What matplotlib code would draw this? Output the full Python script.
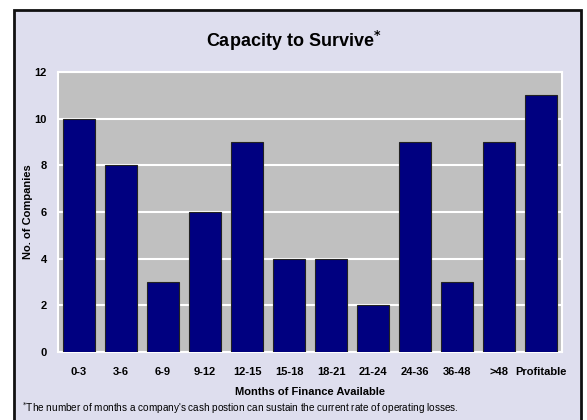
import matplotlib.pyplot as plt
from matplotlib.patches import Rectangle
from matplotlib import font_manager

# data
months = ["0-3", "3-6", "6-9", "9-12", "12-15", "15-18", "18-21",
          "21-24", "24-36", "36-48", ">48", "Profitable"]
companies = [10, 8, 3, 6, 9, 4, 4, 2, 9, 3, 9, 11]
yticks = [0, 2, 4, 6, 8, 10, 12]

names = {f.name for f in font_manager.fontManager.ttflist}
fam = "Liberation Sans Narrow" if "Liberation Sans Narrow" in names else "Liberation Sans"
plt.rcParams["font.family"] = [fam, "DejaVu Sans"]

W, H = 587, 420
fig = plt.figure(figsize=(W / 100, H / 100), dpi=100)
fig.patch.set_facecolor("white")

# outer frame
frame = Rectangle((14 / W, -0.05), (581 - 14) / W, 1.05 - 10 / H,
                  transform=fig.transFigure, facecolor="#DEDEEE",
                  edgecolor="#111111", linewidth=2, zorder=-10)
fig.patches.append(frame)

ax = fig.add_axes([58 / W, 1 - 352 / H, (562 - 58) / W, (352 - 72) / H])
ax.set_facecolor("#C0C0C0")
ax.bar(range(len(months)), companies, width=0.78, color="#000080",
       edgecolor="#222222", linewidth=0.8, zorder=3)

ax.set_ylim(0, 12)
ax.set_xlim(-0.5, len(months) - 0.5)
ax.set_yticks(yticks)
ax.set_xticks(range(len(months)))
ax.set_xticklabels(months)
ax.grid(axis="y", color="white", linewidth=1.5, zorder=1)
for s in ax.spines.values():
    s.set_color("white")
    s.set_linewidth(1.5)
ax.tick_params(length=0, labelsize=8)
ax.tick_params(axis="x", pad=11)
ax.tick_params(axis="y", pad=8)
for lab in ax.get_xticklabels() + ax.get_yticklabels():
    lab.set_fontweight("bold")

ax.set_xlabel("Months of Finance Available", fontsize=8, fontweight="bold",
              va="center")
ax.xaxis.set_label_coords(0.5, -(392 - 352) / (352 - 72))
ax.set_ylabel("No. of Companies", fontsize=8, fontweight="bold",
              va="center", ha="center")
ax.yaxis.set_label_coords(-(58 - 28) / (562 - 58), 0.5)

fig.text(0.5, 1 - 41 / H, r"Capacity to Survive$^{\mathbf{*}}$", ha="center",
         va="center", fontsize=13, fontweight="bold")
fig.text(22 / W, 1 - 408 / H,
         r"$^{*}$The number of months a company's cash postion can sustain "
         "the current rate of operating losses.",
         ha="left", va="center", fontsize=7.2)

fig.savefig("out.png", dpi=100, facecolor="white")
